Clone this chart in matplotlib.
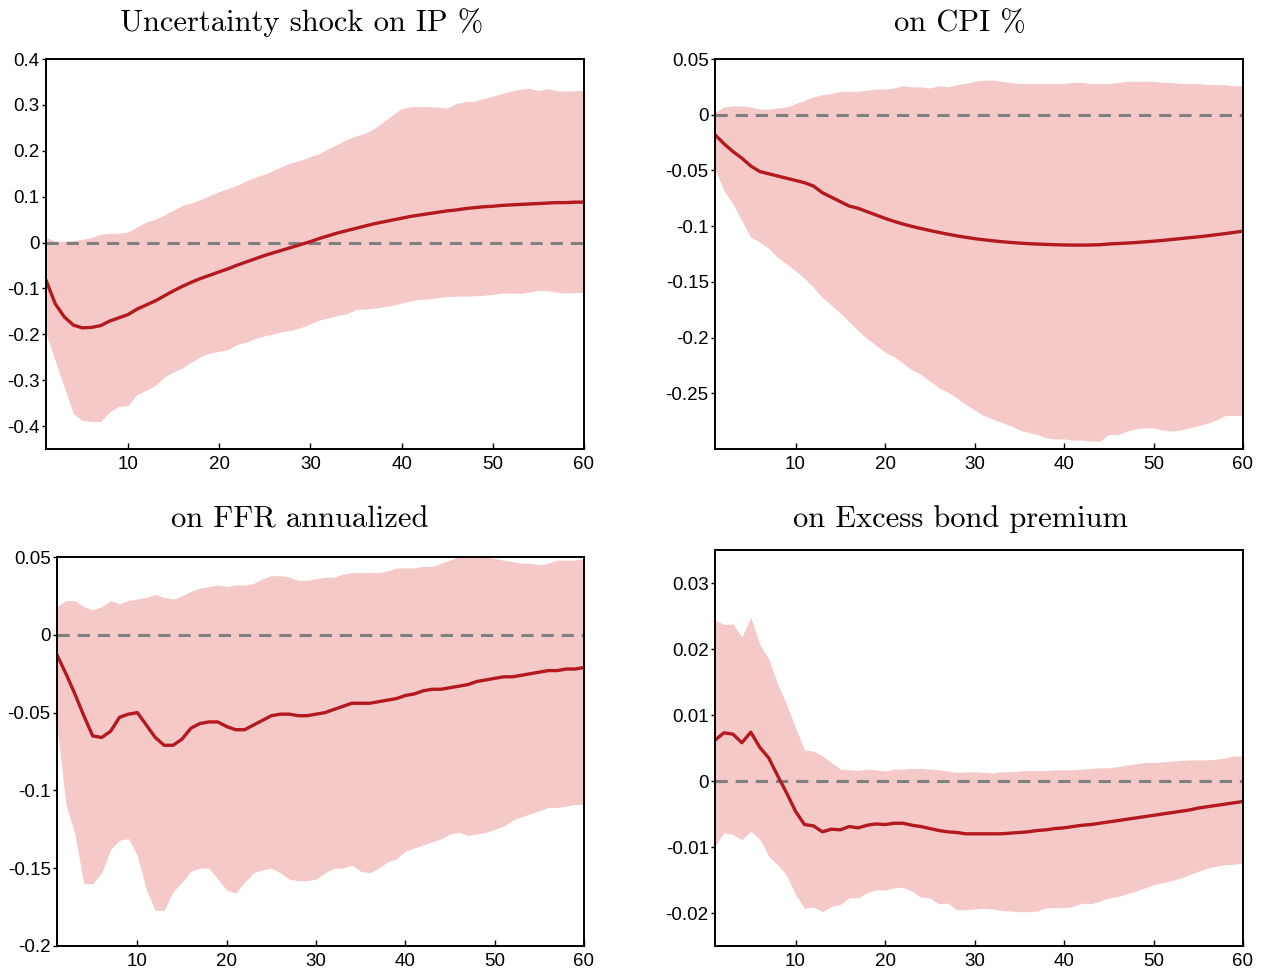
import numpy as np
import matplotlib.pyplot as plt

months = np.arange(1, 61)

# IP response
ip_med = [-0.082, -0.133, -0.162, -0.180, -0.186, -0.185, -0.181, -0.171, -0.164, -0.157,
          -0.145, -0.136, -0.127, -0.116, -0.105, -0.095, -0.086, -0.078, -0.071, -0.064,
          -0.057, -0.049, -0.042, -0.035, -0.028, -0.022, -0.016, -0.010, -0.004, 0.002,
          0.009, 0.015, 0.021, 0.026, 0.031, 0.036, 0.041, 0.045, 0.049, 0.053,
          0.057, 0.060, 0.063, 0.066, 0.069, 0.071, 0.074, 0.076, 0.078, 0.079,
          0.081, 0.082, 0.083, 0.084, 0.085, 0.086, 0.087, 0.087, 0.088, 0.088]
ip_hi = [0.011, 0.003, 0.003, 0.004, 0.007, 0.011, 0.018, 0.020, 0.020, 0.023,
         0.034, 0.045, 0.051, 0.060, 0.071, 0.081, 0.087, 0.094, 0.103, 0.111,
         0.118, 0.125, 0.135, 0.143, 0.149, 0.158, 0.167, 0.174, 0.180, 0.187,
         0.194, 0.205, 0.214, 0.225, 0.232, 0.238, 0.249, 0.263, 0.278, 0.292,
         0.296, 0.296, 0.296, 0.295, 0.293, 0.303, 0.307, 0.308, 0.314, 0.319,
         0.325, 0.330, 0.334, 0.336, 0.331, 0.335, 0.331, 0.330, 0.331, 0.332]
ip_lo = [-0.199, -0.257, -0.315, -0.373, -0.388, -0.390, -0.390, -0.369, -0.357, -0.355,
         -0.331, -0.322, -0.311, -0.293, -0.282, -0.273, -0.260, -0.248, -0.241, -0.237,
         -0.233, -0.222, -0.217, -0.209, -0.203, -0.199, -0.194, -0.191, -0.185, -0.177,
         -0.169, -0.164, -0.159, -0.155, -0.146, -0.145, -0.143, -0.140, -0.137, -0.132,
         -0.127, -0.124, -0.123, -0.120, -0.118, -0.117, -0.117, -0.116, -0.115, -0.113,
         -0.110, -0.110, -0.111, -0.108, -0.104, -0.105, -0.108, -0.110, -0.109, -0.109]

# CPI response
cpi_med = [-0.018, -0.026, -0.033, -0.039, -0.046, -0.051, -0.053, -0.055, -0.057, -0.059,
           -0.061, -0.064, -0.070, -0.074, -0.078, -0.082, -0.084, -0.087, -0.090, -0.093,
           -0.0957, -0.0981, -0.1002, -0.1021, -0.1039, -0.1056, -0.1072, -0.1087, -0.1100, -0.1112,
           -0.1122, -0.1131, -0.1139, -0.1146, -0.1152, -0.1157, -0.1161, -0.1164, -0.1167, -0.1169,
           -0.1170, -0.1170, -0.1169, -0.1167, -0.1160, -0.1156, -0.1152, -0.1147, -0.1141, -0.1135,
           -0.1128, -0.1120, -0.1112, -0.1104, -0.1096, -0.1087, -0.1077, -0.1067, -0.1056, -0.1045]
cpi_hi = [0.002, 0.007, 0.008, 0.008, 0.007, 0.005, 0.005, 0.006, 0.007, 0.010,
          0.013, 0.016, 0.018, 0.019, 0.021, 0.021, 0.021, 0.022, 0.023, 0.023,
          0.024, 0.026, 0.025, 0.025, 0.024, 0.026, 0.025, 0.027, 0.028, 0.030,
          0.031, 0.031, 0.030, 0.029, 0.028, 0.028, 0.028, 0.028, 0.028, 0.028,
          0.029, 0.029, 0.028, 0.028, 0.028, 0.029, 0.030, 0.030, 0.030, 0.030,
          0.029, 0.029, 0.028, 0.028, 0.028, 0.027, 0.027, 0.027, 0.026, 0.026]
cpi_lo = [-0.049, -0.068, -0.080, -0.095, -0.110, -0.114, -0.120, -0.128, -0.134, -0.140,
          -0.147, -0.155, -0.164, -0.171, -0.178, -0.186, -0.194, -0.201, -0.207, -0.213,
          -0.217, -0.223, -0.229, -0.233, -0.239, -0.245, -0.249, -0.254, -0.260, -0.265,
          -0.270, -0.273, -0.276, -0.279, -0.283, -0.285, -0.287, -0.290, -0.291, -0.291,
          -0.292, -0.292, -0.293, -0.293, -0.287, -0.287, -0.284, -0.282, -0.281, -0.281,
          -0.283, -0.284, -0.283, -0.281, -0.279, -0.277, -0.274, -0.270, -0.270, -0.270]

# FFR response
ffr_med = [-0.013, -0.025, -0.038, -0.052, -0.065, -0.066, -0.062, -0.053, -0.051, -0.050,
           -0.058, -0.066, -0.071, -0.071, -0.067, -0.060, -0.057, -0.056, -0.056, -0.059,
           -0.061, -0.061, -0.058, -0.055, -0.052, -0.051, -0.051, -0.052, -0.052, -0.051,
           -0.050, -0.048, -0.046, -0.044, -0.044, -0.044, -0.043, -0.042, -0.041, -0.039,
           -0.038, -0.036, -0.035, -0.035, -0.034, -0.033, -0.032, -0.030, -0.029, -0.028,
           -0.027, -0.027, -0.026, -0.025, -0.024, -0.023, -0.023, -0.022, -0.022, -0.021]
ffr_hi = [0.018, 0.022, 0.022, 0.018, 0.016, 0.018, 0.022, 0.020, 0.022, 0.023,
          0.024, 0.026, 0.024, 0.023, 0.025, 0.028, 0.030, 0.031, 0.032, 0.031,
          0.032, 0.032, 0.033, 0.036, 0.038, 0.038, 0.037, 0.035, 0.035, 0.036,
          0.037, 0.037, 0.039, 0.040, 0.040, 0.040, 0.040, 0.041, 0.043, 0.043,
          0.043, 0.044, 0.044, 0.046, 0.048, 0.050, 0.050, 0.050, 0.050, 0.049,
          0.048, 0.047, 0.046, 0.046, 0.045, 0.046, 0.048, 0.048, 0.048, 0.049]
ffr_lo = [-0.059, -0.109, -0.128, -0.160, -0.160, -0.153, -0.138, -0.132, -0.131, -0.142,
          -0.164, -0.177, -0.177, -0.165, -0.159, -0.152, -0.150, -0.150, -0.157, -0.164,
          -0.166, -0.159, -0.153, -0.151, -0.150, -0.153, -0.157, -0.158, -0.158, -0.157,
          -0.153, -0.150, -0.150, -0.148, -0.152, -0.153, -0.150, -0.146, -0.144, -0.139,
          -0.137, -0.135, -0.133, -0.131, -0.128, -0.127, -0.129, -0.128, -0.127, -0.125,
          -0.123, -0.119, -0.117, -0.115, -0.113, -0.111, -0.111, -0.110, -0.109, -0.109]

# Excess bond premium response
ebp_med = [0.0062, 0.0073, 0.0071, 0.0058, 0.0074, 0.0051, 0.0035, 0.0008, -0.0018, -0.0046,
           -0.0066, -0.0068, -0.0077, -0.0073, -0.0074, -0.0069, -0.0071, -0.0067, -0.0065, -0.0066,
           -0.0064, -0.0064, -0.0067, -0.0069, -0.0072, -0.0075, -0.0077, -0.0078, -0.0080, -0.0080,
           -0.0080, -0.0080, -0.0080, -0.0079, -0.0078, -0.0077, -0.0075, -0.0074, -0.0072, -0.0071,
           -0.0069, -0.0067, -0.0066, -0.0064, -0.0062, -0.0060, -0.0058, -0.0056, -0.0054, -0.0052,
           -0.0050, -0.0048, -0.0046, -0.0044, -0.0041, -0.0039, -0.0037, -0.0035, -0.0033, -0.0031]
ebp_hi = [0.0244, 0.0237, 0.0238, 0.0218, 0.0248, 0.0207, 0.0185, 0.0147, 0.0116, 0.0081,
          0.0047, 0.0045, 0.0038, 0.0028, 0.0018, 0.0017, 0.0016, 0.0018, 0.0017, 0.0015,
          0.0018, 0.0018, 0.0019, 0.0019, 0.0018, 0.0017, 0.0015, 0.0013, 0.0014, 0.0014,
          0.0013, 0.0012, 0.0014, 0.0014, 0.0015, 0.0016, 0.0016, 0.0016, 0.0017, 0.0017,
          0.0017, 0.0018, 0.0019, 0.0020, 0.0020, 0.0022, 0.0024, 0.0026, 0.0028, 0.0028,
          0.0029, 0.0030, 0.0031, 0.0032, 0.0032, 0.0032, 0.0033, 0.0035, 0.0038, 0.0038]
ebp_lo = [-0.0099, -0.0078, -0.0081, -0.0089, -0.0076, -0.0088, -0.0114, -0.0127, -0.0143, -0.0172,
          -0.0193, -0.0191, -0.0198, -0.0190, -0.0187, -0.0177, -0.0177, -0.0169, -0.0165, -0.0165,
          -0.0162, -0.0161, -0.0167, -0.0176, -0.0177, -0.0186, -0.0185, -0.0195, -0.0195, -0.0194,
          -0.0193, -0.0194, -0.0196, -0.0197, -0.0198, -0.0198, -0.0197, -0.0192, -0.0192, -0.0192,
          -0.0190, -0.0185, -0.0186, -0.0182, -0.0177, -0.0175, -0.0171, -0.0167, -0.0162, -0.0157,
          -0.0154, -0.0151, -0.0147, -0.0142, -0.0137, -0.0132, -0.0129, -0.0127, -0.0126, -0.0124]

titles = ["Uncertainty shock on IP %", "on CPI %", "on FFR annualized", "on Excess bond premium"]
ylims = [(-0.45, 0.4), (-0.3, 0.05), (-0.2, 0.05), (-0.025, 0.035)]
yticks = [[-0.4, -0.3, -0.2, -0.1, 0, 0.1, 0.2, 0.3, 0.4],
          [-0.25, -0.2, -0.15, -0.1, -0.05, 0, 0.05],
          [-0.2, -0.15, -0.1, -0.05, 0, 0.05],
          [-0.02, -0.01, 0, 0.01, 0.02, 0.03]]
yticklabels = [["-0.4", "-0.3", "-0.2", "-0.1", "0", "0.1", "0.2", "0.3", "0.4"],
               ["-0.25", "-0.2", "-0.15", "-0.1", "-0.05", "0", "0.05"],
               ["-0.2", "-0.15", "-0.1", "-0.05", "0", "0.05"],
               ["-0.02", "-0.01", "0", "0.01", "0.02", "0.03"]]
xticks = [10, 20, 30, 40, 50, 60]

meds = [ip_med, cpi_med, ffr_med, ebp_med]
his = [ip_hi, cpi_hi, ffr_hi, ebp_hi]
los = [ip_lo, cpi_lo, ffr_lo, ebp_lo]

# axes boxes in pixels (left, top, right, bottom)
W, H = 1265, 972
boxes = [(46, 59, 584, 449), (715, 59, 1243, 449), (57, 557, 584, 946), (715, 550, 1243, 946)]
title_pos = [(302, 31), (960, 31), (300, 527), (960, 527)]

fig = plt.figure(figsize=(W / 100, H / 100), dpi=100)

band_color = "#F6C9C9"
line_color = "#B3191E"

for i in range(4):
    l, t, r, b = boxes[i]
    ax = fig.add_axes([l / W, 1 - b / H, (r - l) / W, (b - t) / H])
    ax.fill_between(months, los[i], his[i], color=band_color, linewidth=0)
    ax.axhline(0, color="#808080", linewidth=2.2, linestyle=(0, (4, 2.6)))
    ax.plot(months, meds[i], color=line_color, linewidth=2.4)
    ax.set_xlim(1, 60)
    ax.set_ylim(*ylims[i])
    ax.set_xticks(xticks)
    ax.set_yticks(yticks[i])
    ax.set_yticklabels(yticklabels[i])
    for s in ax.spines.values():
        s.set_linewidth(1.4)
    ax.tick_params(axis="y", direction="out", length=3, width=1.0, pad=1.5,
                   labelsize=13.5, labelfontfamily="Liberation Sans")
    ax.tick_params(axis="x", direction="in", length=4, width=1.0, pad=5,
                   labelsize=13.5, labelfontfamily="Liberation Sans")
    tx, ty = title_pos[i]
    fig.text(tx / W, 1 - ty / H, titles[i], ha="center", va="baseline",
             fontsize=22, family="cmr10")

fig.savefig("out.png", dpi=100)
